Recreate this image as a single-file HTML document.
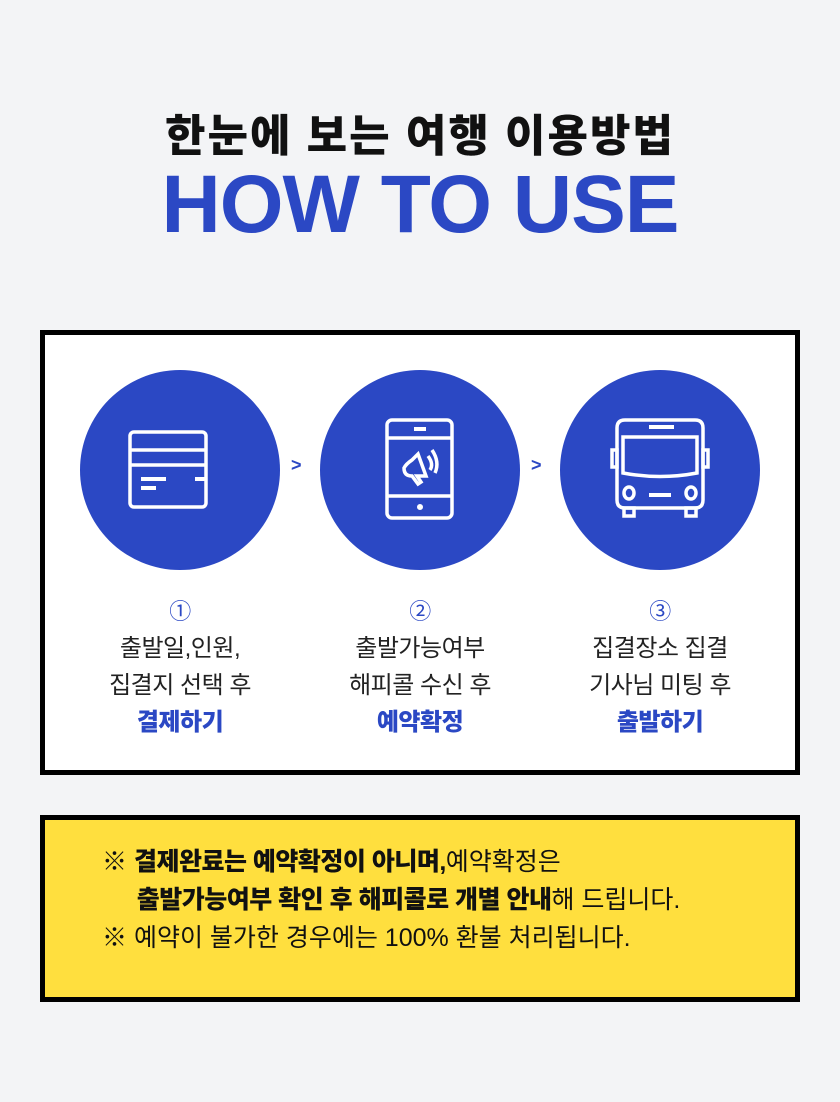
<!DOCTYPE html>
<html><head><meta charset="utf-8"><style>
body{margin:0;width:840px;height:1102px;background:#f3f4f6;font-family:"Liberation Sans","Noto Sans CJK KR",sans-serif;position:relative;overflow:hidden}
.t1{position:absolute;top:100px;width:840px;text-align:center;font-size:44px;font-weight:900;color:#111;letter-spacing:2px}
.t2{position:absolute;top:160px;width:840px;text-align:center;font-size:82px;font-weight:900;color:#2b48c4;letter-spacing:-1px;line-height:90px}
.box{position:absolute;left:40px;top:330px;width:750px;height:435px;background:#fff;border:5px solid #000}
.c{position:absolute;top:370px;width:200px;height:200px;border-radius:50%;background:#2b48c4}
.c svg{position:absolute;left:0;top:0}
.gt{position:absolute;top:455px;font-size:18px;font-weight:900;color:#2b48c4}
.cap{position:absolute;top:597px;width:240px;text-align:center;font-size:24px;line-height:37px;color:#222;letter-spacing:-0.5px}
.cap .n{font-size:22px;line-height:30px;color:#2b48c4;display:block;margin-bottom:3px}
.cap b{color:#2b48c4;font-weight:900}
.yb{position:absolute;left:40px;top:815px;width:750px;height:177px;background:#ffdf3e;border:5px solid #000}
.yt{position:absolute;left:102px;top:843px;font-size:25px;line-height:38px;color:#111;letter-spacing:0px}
.yt b{font-weight:900;letter-spacing:-0.5px}
</style></head><body>
<div class="t1">한눈에 보는 여행 이용방법</div>
<div class="t2">HOW TO USE</div>
<div class="box"></div>
<div class="c" style="left:80px"><svg width="200" height="200" viewBox="0 0 200 200" fill="none" stroke="#fff" stroke-width="3.5">
<rect x="50" y="62" width="76" height="75" rx="4"/><line x1="50" y1="80" x2="126" y2="80"/><line x1="50" y1="95" x2="126" y2="95"/>
<line x1="61" y1="109" x2="86" y2="109" stroke-width="4"/><line x1="125" y1="109" x2="115" y2="109" stroke-width="4"/><line x1="61" y1="118" x2="76" y2="118" stroke-width="4"/></svg></div>
<div class="gt" style="left:291px">&gt;</div>
<div class="c" style="left:320px"><svg width="200" height="200" viewBox="0 0 200 200" fill="none" stroke="#fff" stroke-width="3.5">
<rect x="67" y="50" width="65" height="98" rx="5"/><line x1="67" y1="68" x2="132" y2="68"/><line x1="67" y1="126" x2="132" y2="126"/>
<line x1="94" y1="59" x2="106" y2="59" stroke-width="4"/><circle cx="100" cy="137" r="3" fill="#fff" stroke="none"/>
<path d="M98 84 L106 106 L97 106 L101 112 L98 114 L92 106 Q84 106 84 98 Q86 94 92 90 Z"/><path d="M108 86 Q114 94 110 100"/><path d="M112 80 Q120 92 115 103"/></svg></div>
<div class="gt" style="left:531px">&gt;</div>
<div class="c" style="left:560px"><svg width="200" height="200" viewBox="0 0 200 200" fill="none" stroke="#fff" stroke-width="3.5">
<path d="M57 58 Q57 50 65 50 L135 50 Q143 50 143 58 L143 130 Q143 138 135 138 L65 138 Q57 138 57 130 Z"/>
<line x1="89" y1="57" x2="114" y2="57" stroke-width="4"/><path d="M63 67 L137 67 L137 103 Q100 110 63 103 Z"/>
<rect x="52" y="80" width="5" height="17"/><rect x="143" y="80" width="5" height="17"/>
<ellipse cx="69" cy="123" rx="5" ry="6"/><ellipse cx="131" cy="123" rx="5" ry="6"/><line x1="89" y1="125" x2="111" y2="125" stroke-width="4"/>
<rect x="64" y="138" width="10" height="8"/><rect x="126" y="138" width="10" height="8"/></svg></div>
<div class="cap" style="left:60px"><span class="n">①</span>출발일,인원,<br>집결지 선택 후<br><b>결제하기</b></div>
<div class="cap" style="left:300px"><span class="n">②</span>출발가능여부<br>해피콜 수신 후<br><b>예약확정</b></div>
<div class="cap" style="left:540px"><span class="n">③</span>집결장소 집결<br>기사님 미팅 후<br><b>출발하기</b></div>
<div class="yb"></div>
<div class="yt">※ <b>결제완료는 예약확정이 아니며,</b>예약확정은<br>&nbsp;&nbsp;&nbsp;&nbsp;&nbsp;<b>출발가능여부 확인 후 해피콜로 개별 안내</b>해 드립니다.<br>※ 예약이 불가한 경우에는 100% 환불 처리됩니다.</div>
</body></html>
